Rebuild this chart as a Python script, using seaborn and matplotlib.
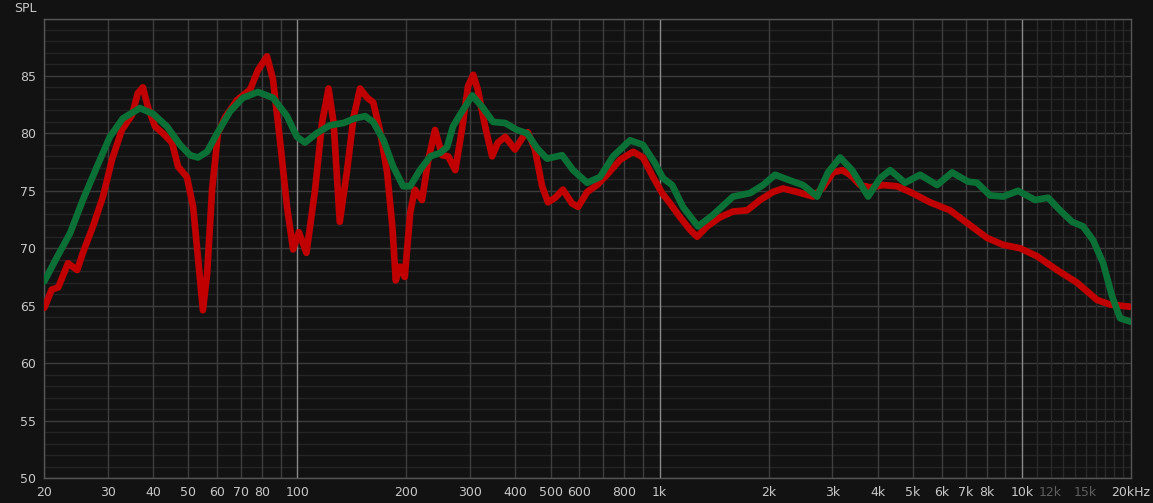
import numpy as np
import pandas as pd
import seaborn as sns
import matplotlib.pyplot as plt

# red trace (raw response), frequency in Hz / level in dB
red_freq = [20, 20.1, 21.0, 21.9, 23.3, 24.7, 25.6, 27.3, 29.1, 30.8, 32.8, 35.0, 36.3, 37.5,
            38.7, 40.5, 42.6, 45.1, 46.9, 49.6, 51.6, 53.2, 54.9, 56.4, 58.2, 60.4, 63.2,
            68.2, 74.1, 77.9, 82.5, 85.7, 89.6, 93.7, 97.4, 101, 106, 112, 117, 122, 126,
            131, 137, 143, 149, 156, 162, 169, 177, 183, 187, 192, 198, 205, 211, 221, 230,
            240, 251, 261, 273, 285, 296, 306, 315, 330, 345, 358, 375, 399, 420, 433, 453,
            474, 492, 515, 541, 573, 596, 631, 672, 716, 778, 845, 900, 959, 1016, 1069,
            1139, 1214, 1269, 1352, 1469, 1595, 1744, 1894, 2056, 2191, 2396, 2652, 2826,
            3012, 3190, 3355, 3576, 3811, 4138, 4522, 4914, 5577, 6336, 7057, 8014, 8872,
            9884, 11014, 12506, 14200, 16124, 17516, 20000]
red_db = [64.8, 64.9, 66.4, 66.6, 68.7, 68.1, 69.6, 71.9, 74.5, 77.7, 80.3, 81.6, 83.5, 84.0,
          82.3, 80.6, 80.0, 79.2, 77.1, 76.2, 73.6, 69.2, 64.6, 67.8, 75.1, 80.0, 81.4,
          82.9, 83.8, 85.5, 86.7, 84.7, 79.4, 73.6, 69.9, 71.4, 69.6, 75.1, 80.9, 83.9, 80.9,
          72.3, 76.6, 81.4, 83.9, 83.1, 82.7, 80.3, 76.6, 71.9, 67.2, 68.4, 67.5, 73.1, 75.1,
          74.2, 77.7, 80.3, 78.1, 78.0, 76.8, 80.4, 84.1, 85.1, 83.8, 80.6, 78.0, 79.2,
          79.7, 78.6, 79.7, 80.1, 78.6, 75.4, 74.0, 74.4, 75.1, 73.9, 73.6, 74.9, 75.5,
          76.4, 77.7, 78.4, 77.9, 76.2, 74.8, 73.9, 72.7, 71.6, 71.0, 71.9, 72.7, 73.2,
          73.3, 74.2, 74.9, 75.2, 74.9, 74.5, 75.3, 76.6, 76.8, 76.4, 75.5, 75.3, 75.5,
          75.4, 74.9, 74.0, 73.3, 72.2, 70.9, 70.3, 70.0, 69.3, 68.1, 67.0, 65.5, 65.1,
          64.9]

# green trace (smoothed / corrected response)
green_freq = [20, 20.1, 21.7, 23.6, 25.6, 28.0, 30.4, 33.0, 36.8, 40.0, 43.7, 47.5, 50.6,
              53.2, 56.4, 60.1, 65.2, 70.8, 77.9, 85.7, 93.7, 99.8, 105, 113, 123, 134, 144,
              154, 162, 173, 184, 196, 205, 218, 233, 248, 259, 269, 281, 304, 324, 347,
              375, 404, 431, 459, 489, 538, 577, 631, 685, 744, 829, 900, 971, 1022, 1083,
              1160, 1276, 1404, 1595, 1777, 1930, 2083, 2291, 2489, 2721, 2917, 3148, 3399,
              3763, 4061, 4329, 4760, 5235, 5833, 6415, 7103, 7520, 8168, 8872, 9762, 10875,
              11809, 12744, 13756, 14751, 15718, 16755, 17741, 18669, 20000]
green_db = [67.1, 67.2, 69.2, 71.3, 74.2, 77.1, 79.7, 81.3, 82.2, 81.7, 80.6, 79.0, 78.1,
            77.9, 78.4, 80.0, 81.9, 83.1, 83.6, 83.1, 81.5, 79.7, 79.2, 80.0, 80.7, 80.9,
            81.3, 81.5, 81.0, 79.4, 77.1, 75.4, 75.4, 76.8, 78.0, 78.3, 78.8, 80.6, 81.6,
            83.3, 82.3, 81.0, 80.9, 80.3, 80.0, 78.7, 77.8, 78.1, 76.8, 75.7, 76.2, 78.0,
            79.4, 79.0, 77.4, 76.1, 75.5, 73.6, 71.9, 72.9, 74.5, 74.8, 75.5, 76.4, 75.9,
            75.5, 74.5, 76.6, 77.9, 76.8, 74.5, 76.1, 76.8, 75.7, 76.4, 75.5, 76.6, 75.8,
            75.7, 74.6, 74.5, 75.0, 74.2, 74.4, 73.3, 72.3, 71.9, 70.7, 68.7, 65.8, 63.9,
            63.6]

tick_freqs = [20, 30, 40, 50, 60, 70, 80, 100, 200, 300, 400, 500, 600, 800, 1000, 2000,
              3000, 4000, 5000, 6000, 7000, 8000, 10000, 12000, 15000, 20000]
tick_labels = ['20', '30', '40', '50', '60', '70', '80', '100', '200', '300', '400', '500',
               '600', '800', '1k', '2k', '3k', '4k', '5k', '6k', '7k', '8k', '10k', '12k',
               '15k', '20kHz']
dim_labels = ['12k', '15k']
y_ticks = [50, 55, 60, 65, 70, 75, 80, 85]

bg = '#121212'
txt = '#c8c8c8'

sns.set_style('dark', {'axes.facecolor': bg, 'figure.facecolor': bg})
plt.rcParams['font.family'] = ['DejaVu Sans']

fig = plt.figure(figsize=(11.53, 5.03), dpi=100)
ax = fig.add_axes([44 / 1153, 25 / 503, (1131 - 44) / 1153, (478 - 18.5) / 503])
ax.set_facecolor(bg)
ax.set_xscale('log')
ax.set_xlim(20, 20000)
ax.set_ylim(50, 90)

# grid: minor dB lines, 5 dB lines, per-decade frequency lines
for v in range(50, 91):
    ax.axhline(v, color='#3c3c3c' if v % 5 == 0 else '#242424', lw=1, zorder=0)
for dec in [10, 100, 1000]:
    for m in range(2, 10):
        ax.axvline(m * dec, color='#3e3e3e', lw=1, zorder=0)
for f in [100, 1000, 10000]:
    ax.axvline(f, color='#8a8a8a', lw=1, zorder=0)
for f in range(11000, 20000, 1000):
    ax.axvline(f, color='#2a2a2a', lw=1, zorder=0)

df_red = pd.DataFrame({'freq': red_freq, 'spl': red_db})
df_green = pd.DataFrame({'freq': green_freq, 'spl': green_db})
sns.lineplot(data=df_red, x='freq', y='spl', ax=ax, color='#c00000', lw=4.8,
             sort=False, estimator=None, solid_joinstyle='round', solid_capstyle='round', zorder=3)
sns.lineplot(data=df_green, x='freq', y='spl', ax=ax, color='#0a7036', lw=4.8,
             sort=False, estimator=None, solid_joinstyle='round', solid_capstyle='round', zorder=4)

ax.set_xticks(tick_freqs)
ax.set_xticklabels(tick_labels)
ax.xaxis.set_minor_locator(plt.NullLocator())
ax.set_yticks(y_ticks)
ax.tick_params(axis='both', length=0, colors=txt, labelsize=9)
ax.tick_params(axis='x', pad=6)
ax.tick_params(axis='y', pad=6)
for lab in ax.get_xticklabels():
    if lab.get_text() in dim_labels:
        lab.set_color('#5e5e5e')
ax.set_xlabel('')
ax.set_ylabel('')
for s in ax.spines.values():
    s.set_color('#555555')
    s.set_linewidth(1)

fig.text(14 / 1153, 1 - 9 / 503, 'SPL', color=txt, fontsize=9, va='center', ha='left')

plt.savefig('out.png', dpi=100, facecolor=bg)
